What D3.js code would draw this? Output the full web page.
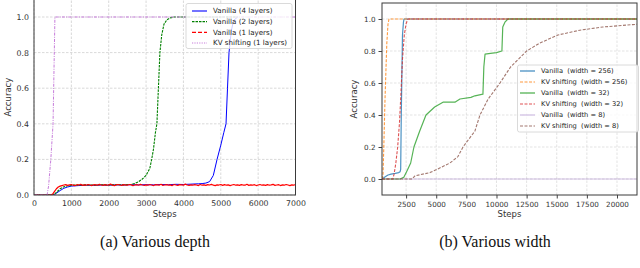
<!DOCTYPE html>
<html><head><meta charset="utf-8">
<script src="https://cdn.jsdelivr.net/npm/d3@7/dist/d3.min.js"></script>
<style>body{margin:0;background:#fff}svg{display:block}text{white-space:pre}</style>
</head><body>
<svg id="c" width="640" height="268"></svg>
<script>
// ---------- DATA: (a) Various depth ----------
const depthXTicks = [0,1000,2000,3000,4000,5000,6000,7000];
const depthYTicks = [0.0,0.2,0.4,0.6,0.8,1.0];
const van4Steps = [0,500,550,600,700,800,900,1000,1200,1400,1600,1800,2000,2200,2400,2600,2800,3000,3200,3400,3600,3800,4000,4200,4400,4500,4600,4700,4800,4900,5000,5080,5140,5180,5220,5280,5340,5450];
const van4Vals  = [0,0,0.003,0.01,0.025,0.038,0.045,0.05,0.053,0.055,0.054,0.056,0.055,0.057,0.056,0.058,0.057,0.058,0.057,0.059,0.058,0.06,0.059,0.061,0.063,0.064,0.067,0.075,0.11,0.2,0.28,0.35,0.4,0.6,0.8,0.92,0.98,1.0];
const van2Steps = [0,500,550,600,700,800,900,1000,1200,1400,1600,1800,2000,2200,2400,2600,2700,2800,2900,3000,3100,3150,3200,3250,3290,3330,3370,3420,3480,3560,3650,3750,5450];
const van2Vals  = [0,0,0.005,0.015,0.035,0.046,0.052,0.055,0.056,0.057,0.055,0.058,0.056,0.058,0.057,0.06,0.065,0.075,0.09,0.11,0.15,0.2,0.26,0.35,0.4,0.6,0.8,0.9,0.96,0.985,0.995,1.0,1.0];
const van1Steps = [0,450,500,550,600,650,700,750].concat(d3.range(800,7001,50));
const van1Vals  = [0,0,0.005,0.02,0.035,0.045,0.05,0.053,
0.056,0.058,0.054,0.057,0.059,0.055,0.053,0.058,0.056,0.060,
0.054,0.057,0.055,0.059,0.056,0.053,0.058,0.057,0.055,0.060,
0.056,0.054,0.058,0.055,0.057,0.061,0.055,0.053,0.057,0.059,
0.056,0.054,0.058,0.056,0.055,0.059,0.057,0.053,0.056,0.058,
0.055,0.060,0.056,0.054,0.057,0.055,0.059,0.056,0.053,0.058,
0.057,0.055,0.060,0.054,0.056,0.058,0.055,0.057,0.053,0.059,
0.056,0.054,0.058,0.057,0.055,0.061,0.056,0.054,0.057,0.055,
0.058,0.056,0.053,0.059,0.055,0.057,0.054,0.058,0.056,0.060,
0.055,0.053,0.057,0.056,0.059,0.054,0.058,0.055,0.057,0.053,
0.056,0.059,0.055,0.057,0.054,0.058,0.056,0.055,0.060,0.054,
0.057,0.055,0.058,0.053,0.056,0.059,0.055,0.057,0.054,0.058,
0.055,0.057,0.060,0.054,0.056,0.058,0.053,0.057,0.055,0.059,
0.056,0.053,0.057,0.055,0.059];
const kv1Steps = [0,350,390,450,510,560,7000];
const kv1Vals  = [0,0,0.05,0.2,0.4,1.0,1.0];
const depthLabels = ["Vanilla (4 layers)","Vanilla (2 layers)","Vanilla (1 layers)","KV shifting (1 layers)"];

// ---------- DATA: (b) Various width ----------
const widthXTicks = [2500,5000,7500,10000,12500,15000,17500,20000];
const widthYTicks = [0.0,0.2,0.4,0.6,0.8,1.0];
const w256VanSteps = [500,800,1000,1250,1600,1880,2000,2050,2100,2200,2280,2330,21660];
const w256VanVals  = [0,0.015,0.025,0.03,0.035,0.04,0.045,0.06,0.4,0.9,0.98,1.0,1.0];
const w256KvSteps = [500,580,650,750,900,1000,1080,21660];
const w256KvVals  = [0,0.02,0.2,0.5,0.85,0.97,1.0,1.0];
const w32VanSteps = [500,2000,2300,2570,2880,3150,3630,4150,4870,5560,6550,6970,7880,8210,8875,8950,9050,9500,10000,10450,10520,10700,10950,21660];
const w32VanVals  = [0,0,0.01,0.05,0.1,0.2,0.3,0.4,0.45,0.48,0.48,0.5,0.51,0.52,0.53,0.7,0.78,0.785,0.79,0.8,0.95,0.98,1.0,1.0];
const w32KvSteps = [500,1400,1500,1650,1800,1950,2050,2200,2350,2500,2650,21660];
const w32KvVals  = [0,0,0.03,0.1,0.2,0.35,0.5,0.75,0.9,0.97,1.0,1.0];
const w8VanSteps = [500,21660];
const w8VanVals  = [0,0];
const w8KvSteps = [500,3000,3240,4480,5060,6140,6800,7220,8210,8630,9310,10290,11170,12500,13600,15100,16920,18820,21300,21660];
const w8KvVals  = [0,0,0.02,0.04,0.06,0.1,0.14,0.2,0.3,0.4,0.5,0.6,0.7,0.8,0.85,0.9,0.93,0.95,0.965,0.967];
const widthLabels = ["Vanilla  (width = 256)","KV shifting  (width = 256)","Vanilla  (width = 32)","KV shifting  (width = 32)","Vanilla  (width = 8)","KV shifting  (width = 8)"];

const captions = ["(a) Various depth","(b) Various width"];

// ---------- DRAW ----------
const svg = d3.select("#c");
const zip = (xs, ys) => xs.map((x,i)=>[x, ys[i]]);
const SANS = "DejaVu Sans, sans-serif";

function panel(cfg){
  const g = svg.append("g");
  const x = d3.scaleLinear().domain(cfg.xd).range(cfg.xr);
  const y = d3.scaleLinear().domain(cfg.yd).range(cfg.yr);
  const [x0,x1] = cfg.xr, [yb,yt] = cfg.yr;
  g.selectAll(".gx").data(cfg.xt).join("line")
    .attr("x1",d=>x(d)).attr("x2",d=>x(d)).attr("y1",yb).attr("y2",yt)
    .attr("stroke",cfg.gridColor).attr("stroke-width",0.8).attr("stroke-dasharray","2.5,1.5");
  g.selectAll(".gy").data(cfg.yt).join("line")
    .attr("x1",x0).attr("x2",x1).attr("y1",d=>y(d)).attr("y2",d=>y(d))
    .attr("stroke",cfg.gridColor).attr("stroke-width",0.8).attr("stroke-dasharray","2.5,1.5");
  const cid = "clip"+cfg.id;
  svg.append("clipPath").attr("id",cid).append("rect")
    .attr("x",x0).attr("y",yt).attr("width",x1-x0).attr("height",yb-yt);
  const lg = g.append("g").attr("clip-path",`url(#${cid})`);
  const line = d3.line().x(d=>x(d[0])).y(d=>y(d[1]));
  cfg.series.forEach(s=>{
    lg.append("path").attr("d",line(s.data)).attr("fill","none")
      .attr("stroke",s.color).attr("stroke-width",s.w||1)
      .attr("stroke-opacity",s.op||1)
      .attr("stroke-dasharray",s.dash||null).attr("stroke-linejoin","round");
  });
  const ax = d3.axisBottom(x).tickValues(cfg.xt).tickSize(cfg.tick).tickPadding(cfg.xpad).tickFormat(d=>d);
  const ay = d3.axisLeft(y).tickValues(cfg.yt).tickSize(cfg.tick).tickPadding(cfg.ypad).tickFormat(d3.format(".1f"));
  const gx = g.append("g").attr("transform",`translate(0,${yb})`).call(ax);
  const gy = g.append("g").attr("transform",`translate(${x0},0)`).call(ay);
  [gx,gy].forEach(a=>{
    a.select(".domain").remove();
    a.selectAll("text").attr("font-family",SANS).attr("font-size",cfg.fs).attr("fill","#333");
    a.selectAll("line").attr("stroke","#444");
  });
  g.append("rect").attr("x",x0).attr("y",yt).attr("width",x1-x0).attr("height",yb-yt)
    .attr("fill","none").attr("stroke","#3a3a3a").attr("stroke-width",1);
  g.append("text").attr("x",(x0+x1)/2).attr("y",cfg.xlabY).attr("text-anchor","middle")
    .attr("font-family",SANS).attr("font-size",cfg.lfs).attr("fill","#333").text("Steps");
  g.append("text").attr("transform",`translate(${cfg.ylabX},${(yb+yt)/2}) rotate(-90)`)
    .attr("text-anchor","middle").attr("font-family",SANS).attr("font-size",cfg.lfs).attr("fill","#333").text("Accuracy");
  const L = cfg.legend;
  const lgd = g.append("g");
  lgd.append("rect").attr("x",L.x).attr("y",L.y).attr("width",L.w).attr("height",L.h).attr("rx",2)
    .attr("fill","#fff").attr("fill-opacity",0.8).attr("stroke","#d0d0d0").attr("stroke-width",0.8);
  cfg.series.forEach((s,i)=>{
    const cy = L.row0 + i*L.dy;
    lgd.append("line").attr("x1",L.hx).attr("x2",L.hx+L.hl).attr("y1",cy).attr("y2",cy)
      .attr("stroke",s.color).attr("stroke-width",(s.w||1)*1.1).attr("stroke-opacity",s.op||1)
      .attr("stroke-dasharray",s.ldash!==undefined ? s.ldash : (s.dash||null));
    lgd.append("text").attr("x",L.tx).attr("y",cy).attr("dy","0.35em")
      .attr("font-family",SANS).attr("font-size",L.fs).attr("fill","#222").text(s.label);
  });
}

panel({
  id:"a", xd:[0,7000], xr:[34,295.5], yd:[0,1.1], yr:[195,-0.8],
  xt:depthXTicks, yt:depthYTicks, gridColor:"#cfcfcf", tick:0, xpad:5, ypad:5, fs:7.8, lfs:8.5,
  xlabY:217, ylabX:11,
  series:[
    {data:zip(van4Steps,van4Vals), color:"#0000ff", w:1, label:depthLabels[0], ldash:null},
    {data:zip(van2Steps,van2Vals), color:"#008000", w:1.1, dash:"2.5,1", label:depthLabels[1]},
    {data:zip(van1Steps,van1Vals), color:"#ff0000", w:1.2, label:depthLabels[2], ldash:"4,2"},
    {data:zip(kv1Steps,kv1Vals), color:"#c77ddb", w:1, dash:"3,1.2,1,1.2", label:depthLabels[3], ldash:"1.2,1.2"}
  ],
  legend:{x:186,y:3.5,w:106,h:45,row0:11,dy:10.67,hx:192,hl:15,tx:213,fs:7.1}
});

panel({
  id:"b", xd:[500,21660], xr:[382,637], yd:[-0.1,1.1], yr:[195,3],
  xt:widthXTicks, yt:widthYTicks, gridColor:"#dcdcdc", tick:3.5, xpad:3, ypad:3, fs:7.2, lfs:8.5,
  xlabY:217, ylabX:357,
  series:[
    {data:zip(w256VanSteps,w256VanVals), color:"#1f77b4", w:1.2, op:0.8, label:widthLabels[0]},
    {data:zip(w256KvSteps,w256KvVals), color:"#ff7f0e", w:1.1, op:0.8, dash:"3,1.5", label:widthLabels[1]},
    {data:zip(w32VanSteps,w32VanVals), color:"#2ca02c", w:1.2, op:0.8, label:widthLabels[2]},
    {data:zip(w32KvSteps,w32KvVals), color:"#d62728", w:1.1, op:0.8, dash:"3,1.5", label:widthLabels[3]},
    {data:zip(w8VanSteps,w8VanVals), color:"#9467bd", w:1.2, op:0.4, label:widthLabels[4]},
    {data:zip(w8KvSteps,w8KvVals), color:"#8c564b", w:1.1, op:0.8, dash:"3,1.5", label:widthLabels[5]}
  ],
  legend:{x:517.5,y:65,w:121,h:67,row0:71,dy:11,hx:520,hl:15,tx:541,fs:6.7}
});

[[155,captions[0]],[495,captions[1]]].forEach(([cx,t])=>{
  svg.append("text").attr("x",cx).attr("y",241).attr("dy","0.35em").attr("text-anchor","middle")
    .attr("font-family","Liberation Serif, DejaVu Serif, serif").attr("font-size",16).attr("fill","#111").text(t);
});
</script>
</body></html>
